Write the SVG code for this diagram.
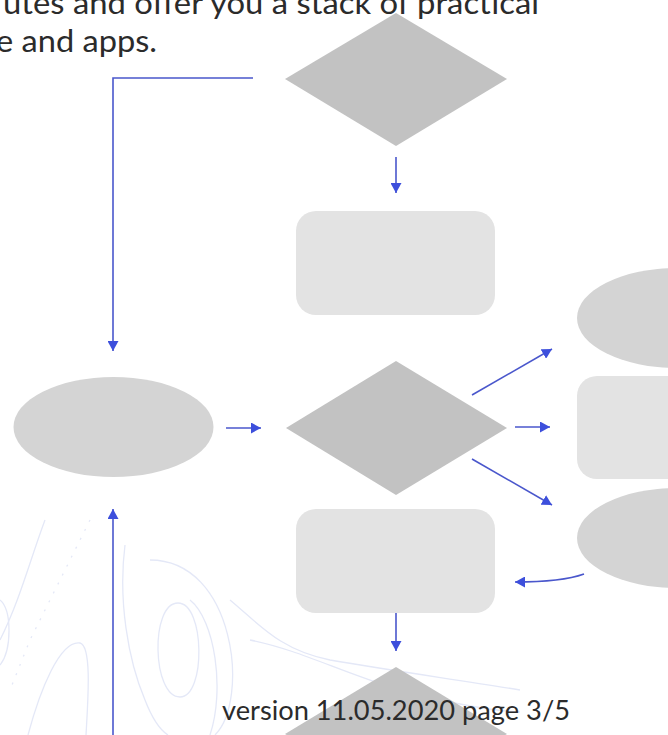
<svg xmlns="http://www.w3.org/2000/svg" width="668" height="735" viewBox="0 0 668 735">
  <defs>
    <style>
      .dia { fill: #c2c2c2; }
      .ell { fill: #d4d4d4; }
      .box { fill: #e3e3e3; }
      .con { fill: none; stroke: #4a57cc; stroke-width: 1.6; }
      .topo { fill: none; stroke: #e4e8f7; stroke-width: 1.3; }
      .txt { font-family: Lato, "Noto Sans", "Liberation Sans", sans-serif; font-weight: 400; fill: #2b2b2b; }
    </style>
    <marker id="ah" viewBox="0 0 10 11" markerWidth="10" markerHeight="11" refX="10" refY="5.5" orient="auto" markerUnits="userSpaceOnUse">
      <path d="M0,0 L10,5.5 L0,11 z" fill="#3d4fdc"/>
    </marker>
  </defs>
  <rect width="668" height="735" fill="#ffffff"/>

  <g id="background-contours">
    <path class="topo" d="M178,603 C205,603 206,697 180,697 C152,697 150,603 178,603 z"/>
    <path class="topo" d="M125,545 C118,600 128,660 145,700 C152,718 160,730 168,735"/>
    <path class="topo" d="M150,560 C235,560 250,700 215,735"/>
    <path class="topo" d="M28,735 C40,690 60,640 80,643 C92,646 88,700 86,735"/>
    <path class="topo" d="M0,600 C12,610 12,650 0,665"/>
    <path class="topo" d="M90,520 L60,580 L30,640 L10,690" stroke-dasharray="2 8"/>
    <path class="topo" d="M45,520 C30,560 20,600 0,640"/>
    <path class="topo" d="M190,600 C215,620 225,690 210,735"/>
    <path class="topo" d="M230,600 C260,625 280,650 330,660 C400,672 460,680 520,690"/>
    <path class="topo" d="M250,640 C300,650 340,672 400,690 C440,700 480,710 520,712"/>
  </g>

  <g id="connectors">
    <path class="con" d="M253,78 H113 V351" stroke="#5a62c4" marker-end="url(#ah)"/>
    <path class="con" d="M396,157 V193" marker-end="url(#ah)"/>
    <path class="con" d="M226,428 H261" marker-end="url(#ah)"/>
    <path class="con" d="M113,735 V509" stroke="#6a78d8" stroke-width="2" marker-end="url(#ah)"/>
    <path class="con" d="M472,395 L552,349" marker-end="url(#ah)"/>
    <path class="con" d="M515,427 H550" marker-end="url(#ah)"/>
    <path class="con" d="M472,459 L552,505" marker-end="url(#ah)"/>
    <path class="con" d="M584,574 Q562,582 515,582" marker-end="url(#ah)"/>
    <path class="con" d="M396,613 V651" marker-end="url(#ah)"/>
  </g>

  <g id="decision-top"><polygon class="dia" points="396,13 507,79 396,146 285,79"/></g>
  <g id="process-1"><rect class="box" x="296" y="211" width="199" height="104" rx="20"/></g>
  <g id="terminal-left"><ellipse class="ell" cx="113.5" cy="427" rx="100" ry="50"/></g>
  <g id="decision-middle"><polygon class="dia" points="396,361 507,428 396,495 286,428"/></g>
  <g id="terminal-right-top"><ellipse class="ell" cx="677" cy="318" rx="100" ry="50"/></g>
  <g id="process-right"><rect class="box" x="577" y="376" width="130" height="103" rx="20"/></g>
  <g id="terminal-right-bottom"><ellipse class="ell" cx="677" cy="538" rx="100" ry="50"/></g>
  <g id="process-2"><rect class="box" x="296" y="509" width="199" height="104" rx="20"/></g>
  <g id="decision-bottom"><polygon class="dia" points="396,667 507,734 396,801 285,734" fill="#bfbfbf"/></g>

  <g id="texts">
    <text class="txt" x="3" y="14" font-size="30" textLength="536" lengthAdjust="spacingAndGlyphs">utes and offer you a stack of practical</text>
    <text class="txt" x="-4" y="52" font-size="30" textLength="161" lengthAdjust="spacingAndGlyphs">e and apps.</text>
    <text class="txt" x="222" y="720" font-size="27" textLength="348" lengthAdjust="spacingAndGlyphs">version 11.05.2020 page 3/5</text>
  </g>
</svg>
